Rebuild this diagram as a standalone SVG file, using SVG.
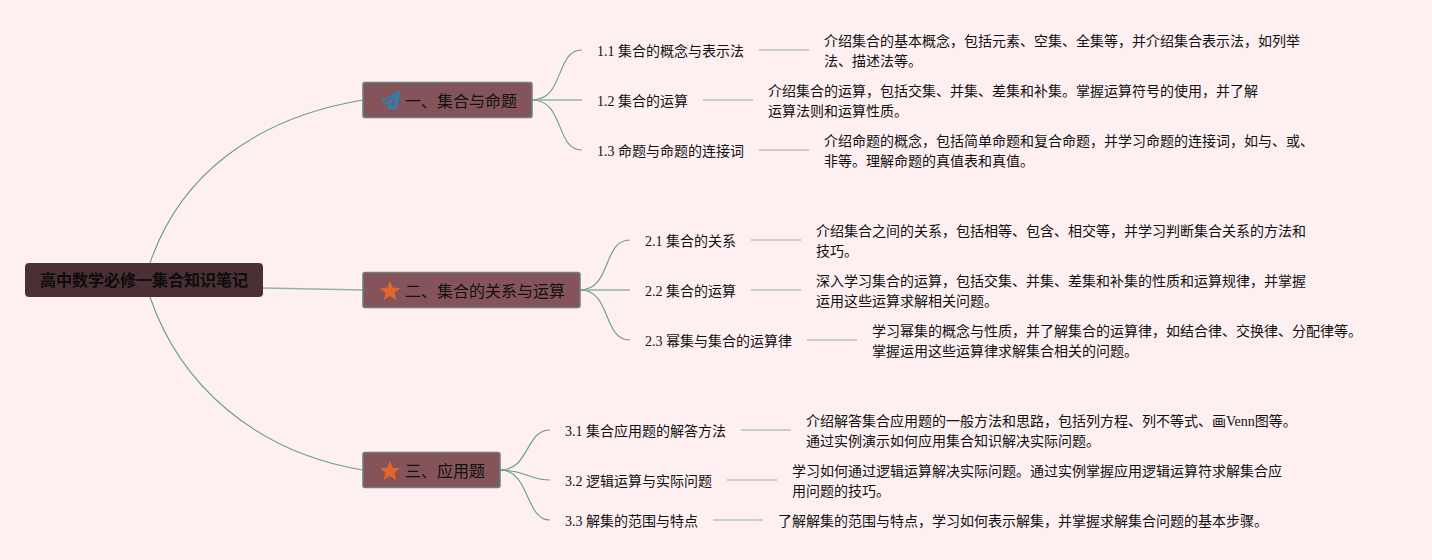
<svg xmlns="http://www.w3.org/2000/svg" width="1432" height="560" viewBox="0 0 1432 560">
<style>
text{font-family:"Liberation Serif","Noto Sans CJK SC",serif;fill:#111}
.root{font-size:16px;font-weight:700;fill:#0c0c0c}
.br{font-size:16px}
.sub{font-size:14px}
.leaf{font-size:14px}
.rootbox{fill:#4a3035;stroke:#4a3035;stroke-width:1}
.brbox{fill:#85545a;stroke:#6e7f78;stroke-width:1.5}
.c{fill:none;stroke:#6a9c8c;stroke-width:1.1}
.t{fill:none;stroke:#8fb5a7;stroke-width:1.6}
.l{fill:none;stroke:#b3c5bb;stroke-width:1.5}
</style>
<defs>
<polygon id="star" points="0,-10 2.9,-3.3 10,-3 4.6,1.7 6.3,9 0,5.1 -6.3,9 -4.6,1.7 -10,-3 -2.9,-3.3" fill="#e2652e"/>
</defs>
<rect width="1432" height="560" fill="#fef0f1"/>
<g id="connectors">
<path class="c" d="M150 263C180 175 255 118 363 100"/>
<path class="c" d="M150 297C180 385 255 452 363 470"/>
<path class="t" d="M263 288L363 290"/>
<path class="c" d="M532 100C565 100 555 50 582 50"/>
<path class="t" d="M532 100H582"/>
<path class="c" d="M532 100C565 100 555 150 582 150"/>
<path class="c" d="M580 290C612 290 602 240 630 240"/>
<path class="t" d="M580 290H630"/>
<path class="c" d="M580 290C612 290 602 340 630 340"/>
<path class="c" d="M500 470C530 470 525 430 550 430"/>
<path class="c" d="M500 470C525 470 530 480 550 480"/>
<path class="c" d="M500 470C530 470 525 520 550 520"/>
<path class="l" d="M759 50H809"/>
<path class="l" d="M703 100H753"/>
<path class="l" d="M759 150H809"/>
<path class="l" d="M751 240H801"/>
<path class="l" d="M751 290H801"/>
<path class="l" d="M807 340H857"/>
<path class="l" d="M741 430H791"/>
<path class="l" d="M727 480H777"/>
<path class="l" d="M713 520H763"/>
</g>
<g id="root"><rect class="rootbox" x="25.500" y="263.500" width="237" height="33" rx="3"/><text class="root" x="40" y="286">高中数学必修一集合知识笔记</text></g>
<g id="b1"><rect class="brbox" x="363" y="82.500" width="169" height="35" rx="2"/>
<path d="M399 92L382 101L387 103.500ZM399 92L389 104L393 109ZM399 92L396 108L393 105M389 104V109L392 106.500" fill="none" stroke="#2e7fb5" stroke-width="1.800" stroke-linejoin="round"/>
<text class="br" x="405" y="107">一、集合与命题</text></g>
<g id="b2"><rect class="brbox" x="363" y="272.500" width="217" height="35" rx="2"/><use href="#star" x="390" y="291"/><text class="br" x="405" y="297">二、集合的关系与运算</text></g>
<g id="b3"><rect class="brbox" x="363" y="452.500" width="137" height="35" rx="2"/><use href="#star" x="390" y="471"/><text class="br" x="405" y="477">三、应用题</text></g>
<g id="n11"><text class="sub" x="597" y="56">1.1 集合的概念与表示法</text></g>
<g id="n12"><text class="sub" x="597" y="106">1.2 集合的运算</text></g>
<g id="n13"><text class="sub" x="597" y="156">1.3 命题与命题的连接词</text></g>
<g id="n21"><text class="sub" x="645" y="246">2.1 集合的关系</text></g>
<g id="n22"><text class="sub" x="645" y="296">2.2 集合的运算</text></g>
<g id="n23"><text class="sub" x="645" y="346">2.3 幂集与集合的运算律</text></g>
<g id="n31"><text class="sub" x="565" y="436">3.1 集合应用题的解答方法</text></g>
<g id="n32"><text class="sub" x="565" y="486">3.2 逻辑运算与实际问题</text></g>
<g id="n33"><text class="sub" x="565" y="526">3.3 解集的范围与特点</text></g>
<g id="l11"><text class="leaf" x="824" y="46">介绍集合的基本概念，包括元素、空集、全集等，并介绍集合表示法，如列举</text><text class="leaf" x="824" y="66">法、描述法等。</text></g>
<g id="l12"><text class="leaf" x="768" y="96">介绍集合的运算，包括交集、并集、差集和补集。掌握运算符号的使用，并了解</text><text class="leaf" x="768" y="116">运算法则和运算性质。</text></g>
<g id="l13"><text class="leaf" x="824" y="146">介绍命题的概念，包括简单命题和复合命题，并学习命题的连接词，如与、或、</text><text class="leaf" x="824" y="166">非等。理解命题的真值表和真值。</text></g>
<g id="l21"><text class="leaf" x="816" y="236">介绍集合之间的关系，包括相等、包含、相交等，并学习判断集合关系的方法和</text><text class="leaf" x="816" y="256">技巧。</text></g>
<g id="l22"><text class="leaf" x="816" y="286">深入学习集合的运算，包括交集、并集、差集和补集的性质和运算规律，并掌握</text><text class="leaf" x="816" y="306">运用这些运算求解相关问题。</text></g>
<g id="l23"><text class="leaf" x="872" y="336">学习幂集的概念与性质，并了解集合的运算律，如结合律、交换律、分配律等。</text><text class="leaf" x="872" y="356">掌握运用这些运算律求解集合相关的问题。</text></g>
<g id="l31"><text class="leaf" x="806" y="426">介绍解答集合应用题的一般方法和思路，包括列方程、列不等式、画Venn图等。</text><text class="leaf" x="806" y="446">通过实例演示如何应用集合知识解决实际问题。</text></g>
<g id="l32"><text class="leaf" x="792" y="476">学习如何通过逻辑运算解决实际问题。通过实例掌握应用逻辑运算符求解集合应</text><text class="leaf" x="792" y="496">用问题的技巧。</text></g>
<g id="l33"><text class="leaf" x="778" y="526">了解解集的范围与特点，学习如何表示解集，并掌握求解集合问题的基本步骤。</text></g>
</svg>
